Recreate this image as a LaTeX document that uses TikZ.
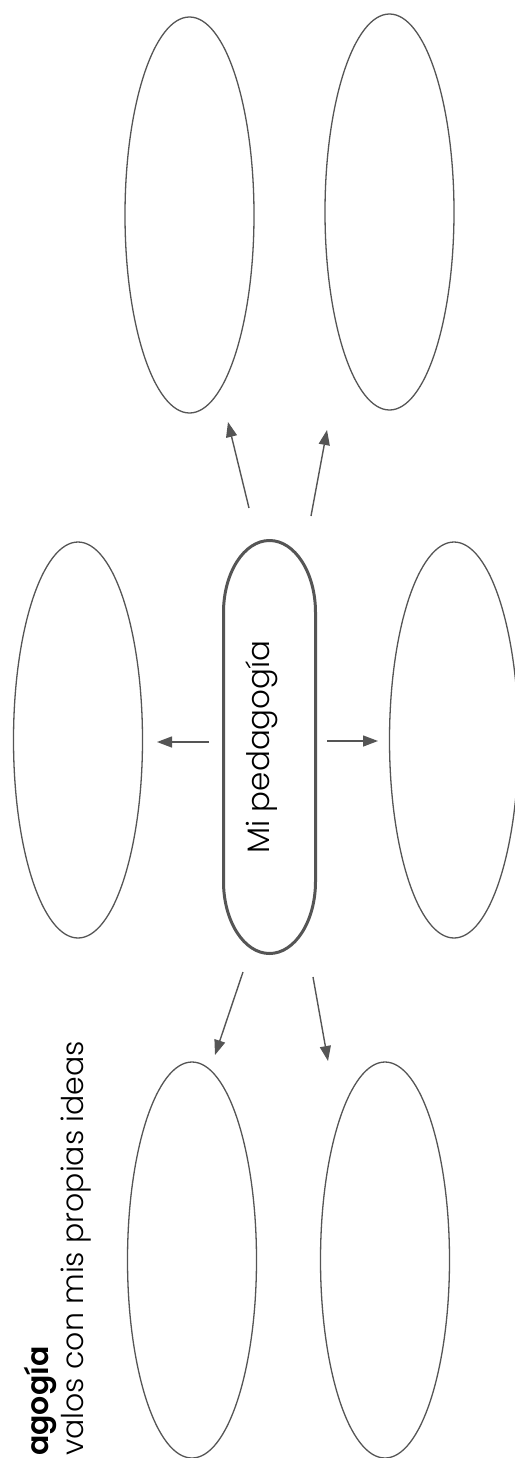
\documentclass[tikz,border=0pt]{standalone}
\usepackage{fontspec}
\setmainfont{Poppins}[UprightFont=* Light, BoldFont=* SemiBold]
\usetikzlibrary{shapes.geometric,arrows.meta}
\definecolor{ink}{HTML}{555555}
\tikzset{
  oval/.style={draw=ink, line width=1.3pt, ellipse, minimum width=129pt, minimum height=396pt, inner sep=0pt},
  conn/.style={draw=ink, line width=1.4pt, -{Triangle[length=15pt,width=11pt]}},
  lbl/.style={rotate=90, inner sep=0pt, text=black}
}
\begin{document}
\begin{tikzpicture}[x=1pt,y=-1pt]
\useasboundingbox (0,0) rectangle (514,1458);
\fill[white] (0,0) rectangle (514,1458);
% ovals
\node[oval] (tl) at (189.5,215) {};
\node[oval] (tr) at (389.5,212) {};
\node[oval] (ml) at (78,740) {};
\node[oval] (mr) at (454,740) {};
\node[oval] (bl) at (192,1260) {};
\node[oval] (br) at (385,1260) {};
% central stadium
\draw[ink, line width=3pt]
  (223.5,612.5) .. controls (223.5,572.7) and (244.1,540.5) .. (269.5,540.5)
  .. controls (294.9,540.5) and (315.5,572.7) .. (315.5,612.5)
  -- (315.5,881.5)
  .. controls (315.5,921.3) and (294.9,953.5) .. (269.5,953.5)
  .. controls (244.1,953.5) and (223.5,921.3) .. (223.5,881.5) -- cycle;
\node[lbl, anchor=base, font=\fontsize{31}{35}\selectfont] (mid) at (269,747) {Mi pedagogía};
% connector end points
\coordinate (a1s) at (249,508); \coordinate (a1e) at (228,422);
\coordinate (a2s) at (311,516); \coordinate (a2e) at (327,430);
\coordinate (a3s) at (209,742); \coordinate (a3e) at (157,742);
\coordinate (a4s) at (327,741); \coordinate (a4e) at (378,741);
\coordinate (a5s) at (243,972); \coordinate (a5e) at (215,1055);
\coordinate (a6s) at (313,977); \coordinate (a6e) at (328,1061);
\draw[conn] (a1s) -- (a1e);
\draw[conn] (a2s) -- (a2e);
\draw[conn] (a3s) -- (a3e);
\draw[conn] (a4s) -- (a4e);
\draw[conn] (a5s) -- (a5e);
\draw[conn] (a6s) -- (a6e);
% title
\node[lbl, anchor=base west, font=\bfseries\fontsize{30}{34}\selectfont] (t1) at (48,1456) {agogía};
\node[lbl, anchor=base west, font=\fontsize{30}{34}\selectfont] (t2) at (83,1456) {valos con mis propias ideas};
\end{tikzpicture}
\end{document}
